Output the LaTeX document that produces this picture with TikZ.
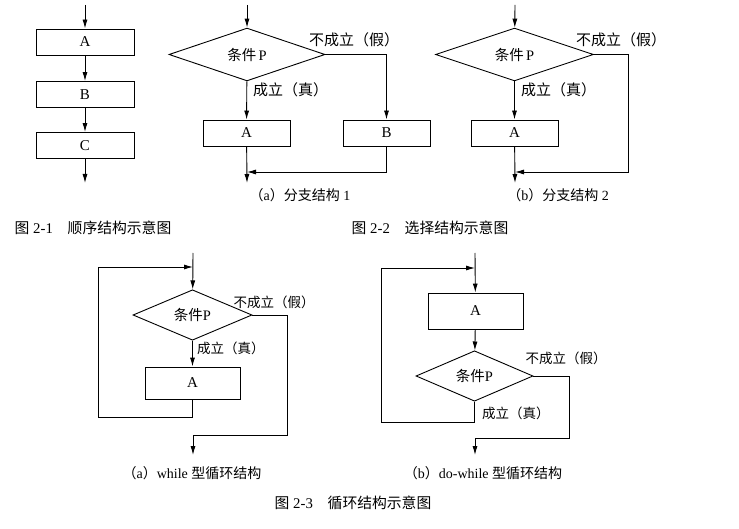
\documentclass[tikz,border=0pt]{standalone}
\usepackage{fontspec}
\setmainfont{Liberation Serif}
\newfontfamily\zhfont{Noto Sans CJK SC}
\usetikzlibrary{arrows.meta,positioning,shapes.geometric}

\tikzset{
  procbox/.style={draw,line width=0.9pt,inner sep=0pt,minimum width=87pt,
    minimum height=26pt,font=\fontsize{15}{15}\selectfont},
  cond/.style={diamond,draw,line width=0.9pt,inner sep=0pt,minimum width=156pt,
    minimum height=51pt,font=\fontsize{14.5}{15}\selectfont},
  flow/.style={line width=0.9pt,-{Latex[length=9pt,width=5pt]}},
  wire/.style={line width=0.9pt},
  lbl/.style={font=\fontsize{15}{15}\selectfont\zhfont,inner sep=0pt},
  lbls/.style={font=\fontsize{13.5}{14}\selectfont\zhfont,inner sep=0pt},
  sublbl/.style={font=\fontsize{14}{14}\selectfont,inner sep=0pt},
  figcap/.style={font=\fontsize{14.8}{15}\selectfont,inner sep=0pt}
}

\begin{document}
\begin{tikzpicture}[x=1pt,y=-1pt]
  \useasboundingbox (0,0) rectangle (739,529);

  % sequence
  \coordinate (s1) at (85,5);
  \node[procbox,minimum width=98pt] (sa) at (85,42) {A};
  \node[procbox,minimum width=98pt] (sb) at (85,94.5) {B};
  \node[procbox,minimum width=98pt] (sc) at (85,145.5) {C};
  \coordinate (e1) at (85,183);
  \draw[flow] (s1) -- (sa);
  \draw[flow] (sa) -- (sb);
  \draw[flow] (sb) -- (sc);
  \draw[flow] (sc) -- (e1);
  \node[figcap] (cap1) at (93,228) {{\zhfont 图} 2-1{\zhfont 　顺序结构示意图}};

  % branch 1
  \coordinate (s2) at (247,5);
  \node[cond] (pa) at (247,54.5) {{\zhfont 条件}\,P};
  \node[procbox] (a2) at (246.5,133) {A};
  \node[procbox] (b2) at (386.5,133) {B};
  \coordinate (j2) at (247,172);
  \coordinate (e2) at (247,183);
  \draw[flow] (s2) -- (pa);
  \draw[flow] (pa) -- (a2);
  \draw[flow] (pa.east) -| (b2);
  \draw[flow] (a2) -- (e2);
  \draw[flow] (b2) |- (j2);
  \node[lbl] (f2) at (354,40) {不成立（假）};
  \node[lbl,anchor=west] (t2) at (253,90) {成立（真）};
  \node[sublbl] (cap2a) at (300,195) {{\zhfont （}a{\zhfont ）分支结构} 1};

  % branch 2
  \coordinate (s3) at (515,5);
  \node[cond,minimum width=158pt] (pb) at (514.5,54.5) {{\zhfont 条件}\,P};
  \node[procbox] (a3) at (514.5,133) {A};
  \coordinate (r3) at (628,172);
  \coordinate (j3) at (515,172);
  \coordinate (e3) at (515,183);
  \draw[flow] (s3) -- (pb);
  \draw[flow] (pb) -- (a3);
  \draw[flow] (a3) -- (e3);
  \draw[flow] (pb.east) -| (r3) -- (j3);
  \node[lbl] (f3) at (621,40) {不成立（假）};
  \node[lbl,anchor=west] (t3) at (521,90) {成立（真）};
  \node[sublbl] (cap2b) at (558,195) {{\zhfont （}b{\zhfont ）分支结构} 2};
  \node[figcap] (cap2) at (430,228) {{\zhfont 图} 2-2{\zhfont 　选择结构示意图}};

  % while
  \coordinate (s4) at (193,253);
  \coordinate (m4) at (193,267);
  \node[cond,minimum width=119pt,minimum height=44pt] (pc) at (192.5,315) {{\zhfont 条件}P};
  \node[procbox,minimum width=95pt,minimum height=32pt] (a4) at (192.5,383) {A};
  \coordinate (l4) at (98,417);
  \coordinate (r4) at (287,435);
  \coordinate (j4) at (193,435);
  \coordinate (e4) at (193,455);
  \draw[flow] (s4) -- (pc);
  \draw[flow] (pc) -- (a4);
  \draw[flow] (a4) |- (l4) |- (m4);
  \draw[wire] (pc.east) -| (r4) -- (j4);
  \draw[flow] (j4) -- (e4);
  \node[lbls] (f4) at (274,302) {不成立（假）};
  \node[lbls,anchor=west] (t4) at (197,348) {成立（真）};
  \node[sublbl] (cap3a) at (192,473) {{\zhfont （}a{\zhfont ）}while {\zhfont 型循环结构}};

  % do-while
  \coordinate (s5) at (475,253);
  \coordinate (m5) at (475,268);
  \node[procbox,minimum width=95pt,minimum height=36pt] (a5) at (475.5,311) {A};
  \node[cond,minimum width=117pt,minimum height=46pt] (pd) at (474.5,376) {{\zhfont 条件}P};
  \coordinate (l5) at (381,422);
  \coordinate (r5) at (569,438);
  \coordinate (j5) at (475,438);
  \coordinate (e5) at (475,455);
  \draw[flow] (s5) -- (a5);
  \draw[flow] (a5) -- (pd);
  \draw[flow] (pd) |- (l5) |- (m5);
  \draw[wire] (pd.east) -| (r5) -- (j5);
  \draw[flow] (j5) -- (e5);
  \node[lbls] (f5) at (566,358) {不成立（假）};
  \node[lbls,anchor=west] (t5) at (482,413) {成立（真）};
  \node[sublbl] (cap3b) at (483,473) {{\zhfont （}b{\zhfont ）}do-while {\zhfont 型循环结构}};
  \node[figcap] (cap3) at (353,503) {{\zhfont 图} 2-3{\zhfont 　循环结构示意图}};
\end{tikzpicture}
\end{document}
